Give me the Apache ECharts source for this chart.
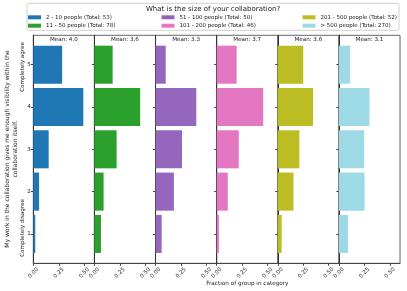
<!DOCTYPE html>
<html>
<head>
<meta charset="utf-8">
<script src="https://cdn.jsdelivr.net/npm/echarts@6/dist/echarts.min.js"></script>
<style>html,body{margin:0;padding:0;background:#fff;}#chart{width:407px;height:291px;}</style>
</head>
<body>
<div id="chart"></div>
<script>
// ---- data ----
const categories = ['1', '2', '3', '4', '5'];
const groupNames = [
  '2 - 10 people (Total: 53)',
  '11 - 50 people (Total: 78)',
  '51 - 100 people (Total: 50)',
  '101 - 200 people (Total: 46)',
  '201 - 500 people (Total: 52)',
  '> 500 people (Total: 270)'
];
const frac2to10    = [0.019, 0.057, 0.151, 0.491, 0.283];
const frac11to50   = [0.064, 0.090, 0.218, 0.449, 0.179];
const frac51to100  = [0.060, 0.180, 0.260, 0.400, 0.100];
const frac101to200 = [0.022, 0.109, 0.217, 0.457, 0.196];
const frac201to500 = [0.038, 0.154, 0.212, 0.346, 0.250];
const frac500plus  = [0.089, 0.252, 0.248, 0.300, 0.111];
const means = ['4.0', '3.6', '3.3', '3.7', '3.6', '3.1'];
const xTicks = [0, 0.25, 0.5];
const yTicks = [1, 2, 3, 4, 5];
const legendTitle = 'What is the size of your collaboration?';
const yLabel = 'My work in the collaboration gives me enough visibility within the\ncollaboration itself.';
const xLabel = 'Fraction of group in category';
const topLabel = 'Completely agree';
const bottomLabel = 'Completely disagree';

// ---- styling / layout ----
const series = [frac2to10, frac11to50, frac51to100, frac101to200, frac201to500, frac500plus];
const colors = ['#1f77b4', '#2ca02c', '#9467bd', '#e377c2', '#bcbd22', '#9edae5'];
const FONT = 'DejaVu Sans';
const axTop = 35.3, axBottom = 263.3, axH = axBottom - axTop;
const yMin = 0.305, yMax = 5.695;
const pxPerUnit = axH / (yMax - yMin);
const barGridTop = axTop + (yMax - 5.5) * pxPerUnit;
const barGridH = 5 * pxPerUnit;
const panelLeft0 = 33.3, panelW = 61.12;

const grids = [], xAxes = [], yAxes = [], ser = [], titles = [], legends = [];
for (let i = 0; i < 6; i++) {
  const left = panelLeft0 + i * panelW;
  grids.push({left: left, top: axTop, width: panelW, height: axH, show: true, borderColor: '#666', borderWidth: 1, backgroundColor: 'transparent'});
  grids.push({left: left, top: barGridTop, width: panelW, height: barGridH, show: false});
  xAxes.push({
    gridIndex: 2 * i, type: 'value', min: 0, max: 0.6,
    axisLine: {show: true, lineStyle: {color: '#444', width: 1}},
    axisTick: {show: true, customValues: xTicks, length: 2.5, lineStyle: {color: '#444'}},
    axisLabel: {show: true, customValues: xTicks, rotate: 45, align: 'center', verticalAlign: 'middle', margin: 9.5,
      fontSize: 5.5, fontFamily: FONT, color: '#222', formatter: v => Number(v).toFixed(2)},
    splitLine: {show: false}
  });
  xAxes.push({gridIndex: 2 * i + 1, type: 'value', min: 0, max: 0.6, show: false});
  yAxes.push({
    gridIndex: 2 * i, type: 'value', min: yMin, max: yMax,
    axisLine: {show: true, lineStyle: {color: '#333', width: 1}},
    axisTick: {show: true, customValues: yTicks, length: 2.5, lineStyle: {color: '#444'}},
    axisLabel: {show: i === 0, customValues: yTicks, margin: 2.5, fontSize: 5.5, fontFamily: FONT, color: '#222'},
    splitLine: {show: false}
  });
  yAxes.push({gridIndex: 2 * i + 1, type: 'category', data: categories, show: false});
  ser.push({
    name: groupNames[i], type: 'bar', xAxisIndex: 2 * i + 1, yAxisIndex: 2 * i + 1,
    data: series[i], barWidth: '90%', itemStyle: {color: colors[i]}, silent: true, animation: false
  });
  titles.push({
    text: 'Mean: ' + means[i], left: left + panelW / 2, top: axTop + 1, textAlign: 'center',
    padding: 0, textStyle: {fontSize: 5.6, fontWeight: 'normal', fontFamily: FONT, color: '#222'}
  });
}
const legCols = [28, 161.5, 302.5];
const legRows = [13.8, 22.2];
for (let i = 0; i < 6; i++) {
  const col = Math.floor(i / 2), row = i % 2;
  legends.push({
    data: [groupNames[i]], left: legCols[col], top: legRows[row], padding: 0,
    icon: 'rect', itemWidth: 13, itemHeight: 4, selectedMode: false,
    textStyle: {fontSize: 5.5, fontFamily: FONT, color: '#222', lineHeight: 7}
  });
}

const chart = echarts.init(document.getElementById('chart'), null, {renderer: 'canvas'});
chart.setOption({
  animation: false,
  backgroundColor: '#fff',
  title: titles,
  legend: legends,
  grid: grids,
  xAxis: xAxes,
  yAxis: yAxes,
  series: ser,
  graphic: [
    {type: 'rect', z: -1, shape: {x: 27, y: 3.3, width: 372, height: 27, r: 2}, style: {fill: 'transparent', stroke: '#d0d0d0', lineWidth: 1}},
    {type: 'text', x: 213, y: 9, style: {text: legendTitle, align: 'center', verticalAlign: 'middle', fontSize: 7, fontFamily: FONT, fill: '#222'}},
    {type: 'text', x: 11, y: 149, rotation: Math.PI / 2, style: {text: yLabel, align: 'center', verticalAlign: 'middle', fontSize: 6, lineHeight: 8, fontFamily: FONT, fill: '#222'}},
    {type: 'text', x: 22.5, y: 67, rotation: Math.PI / 2, style: {text: topLabel, align: 'center', verticalAlign: 'middle', fontSize: 5.6, fontFamily: FONT, fill: '#222'}},
    {type: 'text', x: 22.5, y: 228, rotation: Math.PI / 2, style: {text: bottomLabel, align: 'center', verticalAlign: 'middle', fontSize: 5.6, fontFamily: FONT, fill: '#222'}},
    {type: 'text', x: 247.3, y: 284, style: {text: xLabel, align: 'center', verticalAlign: 'middle', fontSize: 5.7, fontFamily: FONT, fill: '#222'}}
  ]
});
</script>
</body>
</html>
